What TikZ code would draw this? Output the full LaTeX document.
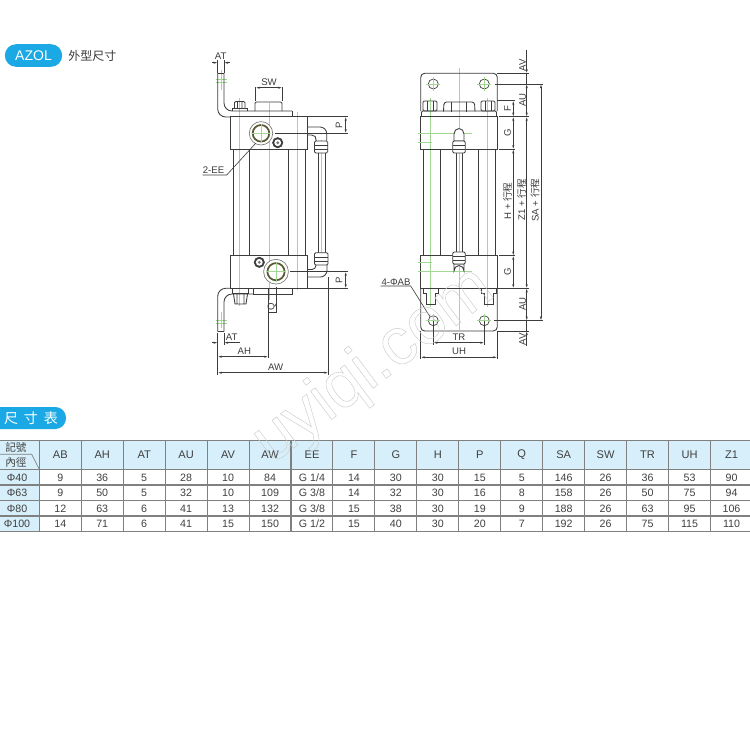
\documentclass[tikz,border=0pt]{standalone}
\usepackage{fontspec}
\setmainfont{Liberation Sans}
\newfontfamily\cjk{Noto Sans CJK TC}
\usetikzlibrary{arrows.meta}
\definecolor{ink}{HTML}{3C3C3C}
\definecolor{cl}{HTML}{A0D894}
\definecolor{pill}{HTML}{1BA9E6}
\definecolor{hdr}{HTML}{D6EFFA}
\definecolor{grid}{HTML}{808080}
\tikzset{
  x=0.75pt,y=-0.75pt,
  body/.style={draw=ink,line width=0.65pt},
  center line/.style={draw=cl,line width=0.6pt},
  dimline/.style={draw=ink,line width=0.45pt},
  dimarrow/.style={draw=ink,line width=0.45pt,{Latex[length=3pt,width=1.6pt]}-{Latex[length=3pt,width=1.6pt]}},
  lab/.style={font=\fontsize{7.2}{8}\selectfont,text=ink,inner sep=0pt},
  vlab/.style={lab,rotate=90},
  cell/.style={font=\fontsize{8}{9}\selectfont,text=black!75,inner sep=0pt},
  gridline/.style={draw=grid,line width=0.8pt},
}
\newcommand{\outlinetext}[1]{\special{pdf:literal 1 Tr 0.35 w}#1\special{pdf:literal 0 Tr}}
\begin{document}
\begin{tikzpicture}
\useasboundingbox (0,0) rectangle (750,750);
\fill[white] (0,0) rectangle (750,750);

% ---------- title pills
\node[fill=pill,rounded corners=8.5pt,minimum width=43pt,minimum height=17pt,inner sep=0pt,text=white,font=\fontsize{10.5}{12}\selectfont] (azol) at (33.5,55.5) {AZOL};
\node[font=\cjk\fontsize{9}{10}\selectfont,text=ink,inner sep=0pt,anchor=west] (wx) at (68,55.5) {外型尺寸};
\fill[pill,rounded corners=8pt] (-20,407) rectangle (66,429);
\node[font=\cjk\fontsize{10.5}{12}\selectfont,text=white,inner sep=0pt] (cc) at (31,418.5) {尺\hspace{4.5pt}寸\hspace{4.5pt}表};

% ---------- LEFT VIEW
% centre lines
\draw[center line] (239,98) -- (239,306);
\draw[center line] (269,103) -- (269,300);
\draw[center line] (297.5,112) -- (297.5,290);
\draw[center line] (321.7,140) -- (321.7,262);
\draw[center line] (221,70) -- (221,90) (215.5,79) -- (227,79) (215.5,82) -- (227,82);
\draw[center line] (221,312) -- (221,328) (215.5,320) -- (227,320) (215.5,323) -- (227,323);
% cylinder
\draw[body] (233,149) -- (233,255.7) (249,149) -- (249,255.7) (288,149) -- (288,255.7) (305,149) -- (305,255.7);
% top bracket
\draw[body,rounded corners=6pt] (217.7,73) -- (217.7,117) -- (231,117);
\draw[body,rounded corners=6pt] (224,73) -- (224,111) -- (292,111);
\draw[body] (217.7,73) -- (224,73) (292,111) -- (292,116.7);
% top bolt + plug
\draw[body] (232.3,111) -- (232.3,108.3) -- (247.3,108.3) -- (247.3,111);
\draw[body] (234.5,108.3) -- (234.5,102.5) -- (236,101.5) -- (243.5,101.5) -- (245,102.5) -- (245,108.3) (237.5,101.5) -- (237.5,108.3) (242,101.5) -- (242,108.3);
\draw[body,rounded corners=1pt] (255,111) -- (255,102) -- (282,102) -- (282,111);
% upper block
\draw[body,fill=white] (230.7,116.7) rectangle (307,149);
\draw[center line] (239,117) -- (239,149) (269,117) -- (269,149) (297.5,117) -- (297.5,149);
% upper port
\fill[white] (261,133.3) circle (11.7);
\draw[draw=ink!70,line width=0.5pt] (261,133.3) circle (11.7);
\draw[draw=ink!85!yellow,line width=1.3pt] (261,133.3) circle (8.3);
\draw[center line] (261,124) -- (261,142.5) (252,133.3) -- (270,133.3);
\draw[fill=ink,draw=ink] (277.7,142.7) circle (5.2);
\draw[fill=white,draw=none] (277.7,142.7) circle (3.4);
\draw[fill=ink!70,draw=none] (277.7,142.7) circle (1.6);
% upper elbow
\draw[body] (275,133.3) -- (345,133.3);
\draw[body,rounded corners=5pt] (307,127) -- (326.7,127) -- (326.7,141);
\draw[body,rounded corners=4pt] (307,135) -- (317,135) -- (316,141);
% upper nut
\draw[body,fill=white,rounded corners=1pt] (314.5,141) rectangle (327.7,153);
\draw[body] (314.5,145) -- (327.7,145) (314.5,149) -- (327.7,149);
% tube
\draw[body] (318,153) -- (318,252.7) (325.7,153) -- (325.7,252.7);
% lower nut
\draw[body,fill=white,rounded corners=1pt] (314.5,252.7) rectangle (328,265);
\draw[body] (314.5,257) -- (328,257) (314.5,261) -- (328,261);
% lower elbow
\draw[body,rounded corners=5pt] (327,265) -- (327,277) -- (307,277);
\draw[body,rounded corners=3pt] (316,265) -- (316,269.5) -- (307,269.5);
% lower block
\draw[body,fill=white] (230.7,255.7) rectangle (307,288.3);
\draw[center line] (239,256) -- (239,288) (269,256) -- (269,288) (297.5,256) -- (297.5,288);
\fill[white] (276,271.7) circle (12.4);
\draw[draw=ink!70,line width=0.5pt] (276,271.7) circle (12.4);
\draw[draw=ink!85!yellow,line width=1.3pt] (276,271.7) circle (8.6);
\draw[center line] (276,262) -- (276,281.5) (266,271.7) -- (286,271.7);
\draw[fill=ink,draw=ink] (259.3,262.3) circle (5.2);
\draw[fill=white,draw=none] (259.3,262.3) circle (3.4);
\draw[fill=ink!70,draw=none] (259.3,262.3) circle (1.6);
% lower bracket
\draw[body,rounded corners=6pt] (231,288.3) -- (217.7,288.3) -- (217.7,331.7);
\draw[body,rounded corners=6pt] (253,294) -- (224,294) -- (224,331.7);
\draw[body] (217.7,331.7) -- (224,331.7) (253,288.3) -- (253,294) -- (292.7,294) -- (292.7,288.3);
% lower bolt
\draw[body] (232.7,288.3) -- (232.7,293) -- (248,293) -- (248,288.3);
\draw[body] (233.5,294) -- (235,304) -- (246,304) -- (247.5,294) (237,294) -- (237,304) (244,294) -- (244,304);

% left dimensions
\draw[dimline] (217.7,60) -- (217.7,73) (224,60) -- (224,73);
\draw[dimline,-{Latex[length=3pt,width=1.6pt]}] (211.5,62.7) -- (217.7,62.7);
\draw[dimline,-{Latex[length=3pt,width=1.6pt]}] (230,62.7) -- (224,62.7);
\node[lab] (atT) at (220.7,56.5) {AT};
\draw[dimline] (255.7,87) -- (255.7,101) (282.3,87) -- (282.3,101);
\draw[dimarrow] (255.7,87.7) -- (282.3,87.7);
\node[lab] (sw) at (269,82.2) {SW};
\draw[dimline] (307,116.7) -- (347.5,116.7) (345,133.3) -- (347.5,133.3);
\draw[dimarrow] (345.7,116.7) -- (345.7,133.3);
\node[vlab] (p1) at (339,125) {P};
\coordinate (eeA) at (202.7,175); \coordinate (eeB) at (226.7,175); \coordinate (eeC) at (255.7,143.3);
\draw[dimline] (eeA) -- (eeB) -- (eeC);
\node[lab] (ee) at (213.5,170.5) {2-EE};
\draw[dimline] (290,271.7) -- (347.5,271.7) (307,288.3) -- (347.5,288.3);
\draw[dimarrow] (345.7,271.7) -- (345.7,288.3);
\node[vlab] (p2) at (339,280) {P};
\draw[dimline] (276,286.7) -- (276,312.7) -- (268.3,312.7);
\draw[dimline] (268.3,288) -- (268.3,358);
\node[vlab] (q) at (272,306.5) {Q};
\draw[dimline] (217.7,333) -- (217.7,375) (224,333) -- (224,345) (328.3,277) -- (328.3,375);
\draw[dimline,-{Latex[length=3pt,width=1.6pt]}] (211.7,342.7) -- (217.7,342.7);
\draw[dimline,-{Latex[length=3pt,width=1.6pt]}] (240,342.7) -- (224,342.7);
\node[lab] (atB) at (231.7,337) {AT};
\draw[dimarrow] (217.7,356.7) -- (268.3,356.7);
\node[lab] (ah) at (244.3,351.2) {AH};
\draw[dimarrow] (217.7,372.7) -- (328.3,372.7);
\node[lab] (aw) at (275.7,367.2) {AW};

% ---------- RIGHT VIEW
\draw[center line] (459,68) -- (459,120) (459,150) -- (459,330);
\draw[center line] (430,98) -- (430,307) (487.7,98) -- (487.7,307);
% plate
\draw[body,rounded corners=3pt] (420.7,111) -- (420.7,73.3) -- (497.3,73.3) -- (497.3,111);
\draw[body,rounded corners=3pt] (420.7,288.3) -- (420.7,331) -- (497.3,331) -- (497.3,288.3);
% holes
\foreach \n/\hx/\hy in {h1/433.3/84,h2/484.3/84,h3/433.3/320.7,h4/484.3/320.7}{
  \draw[draw=ink,line width=0.5pt] (\hx,\hy) circle (5);
  \draw[center line] (\hx-7,\hy) -- (\hx+7,\hy) (\hx,\hy-7) -- (\hx,\hy+7);
}
% cylinder
\draw[body] (423.3,149.3) -- (423.3,255.7) (440,149.3) -- (440,255.7) (478.3,149.3) -- (478.3,255.7) (495,149.3) -- (495,255.7);
\draw[center line] (430,150) -- (430,255) (487.7,150) -- (487.7,255);
\draw[body] (456,153) -- (456,252) (462,153) -- (462,252);
% top bolts + plug
\foreach \bx in {423,481}{
  \draw[body,fill=white,rounded corners=1pt] (\bx,111) -- (\bx,101) -- (\bx+14,101) -- (\bx+14,111) -- cycle;
  \draw[body] (\bx+4,101) -- (\bx+4,111) (\bx+10,101) -- (\bx+10,111);
}
\draw[center line] (430,101) -- (430,111) (487.7,101) -- (487.7,111);
\draw[body,rounded corners=2pt] (443.5,111.5) -- (444,102) -- (474.5,102) -- (475,111.5);
\draw[body] (451.5,102) -- (451.5,111.5) (466.5,102) -- (466.5,111.5);
\draw[body,rounded corners=1pt] (421.5,116.7) -- (421.5,111) -- (496.5,111) -- (496.5,116.7);
% upper block
\draw[body] (420.7,116.7) rectangle (497.3,149.3);
\draw[center line] (430,117) -- (430,149) (459,117) -- (459,128) (487.7,117) -- (487.7,149);
\draw[center line] (417.7,133.3) -- (471.7,133.3) (417.7,142) -- (432,142);
% upper fitting
\draw[body,fill=white] (454,141) -- (454,134) arc[start angle=180,end angle=0,x radius=5,y radius=-5.5] -- (464,141) -- cycle;
\draw[body,fill=white,rounded corners=1pt] (452.7,141) rectangle (465.3,153);
\draw[body] (452.7,145) -- (465.3,145) (452.7,149) -- (465.3,149);
% lower block
\draw[body] (420.7,255.7) rectangle (497.3,288.3);
\draw[center line] (430,256) -- (430,288) (459,277) -- (459,288) (487.7,256) -- (487.7,288);
\draw[center line] (417.7,271.7) -- (471.7,271.7) (417.7,262.3) -- (432,262.3);
\draw[body,fill=white] (454,264) -- (454,271) arc[start angle=180,end angle=360,x radius=5,y radius=5.5] -- (464,264) -- cycle;
\draw[body,fill=white,rounded corners=1pt] (452.7,252) rectangle (465.3,264);
\draw[body] (452.7,256) -- (465.3,256) (452.7,260) -- (465.3,260);
% lower bolts
\foreach \bx in {423,481}{
  \draw[body] (\bx,288.3) -- (\bx,293) -- (\bx+3,293) -- (\bx+3,304) -- (\bx+12,304) -- (\bx+12,293) -- (\bx+15,293) -- (\bx+15,288.3);
}
% right dimensions
\draw[dimline] (497.3,73.3) -- (528.7,73.3) (495,84) -- (543,84) (497.3,100.7) -- (515,100.7)
  (499,116.7) -- (529,116.7) (499,149.3) -- (515,149.3) (499,255.7) -- (515,255.7)
  (498,288.3) -- (529,288.3) (494,320.7) -- (543,320.7) (497.3,331) -- (529,331);
\draw[dimline,-{Latex[length=3pt,width=1.6pt]}] (526.7,50) -- (526.7,73.3);
\draw[dimline,-{Latex[length=3pt,width=1.6pt]}] (526.7,346) -- (526.7,331);
\draw[dimarrow] (526.7,84) -- (526.7,116.7);
\draw[dimarrow] (526.7,116.7) -- (526.7,288.3);
\draw[dimarrow] (526.7,288.3) -- (526.7,320.7);
\draw[dimline] (526.7,73.3) -- (526.7,84) (526.7,320.7) -- (526.7,331);
\draw[dimarrow] (541,84) -- (541,320.7);
\draw[dimarrow] (513.3,100.7) -- (513.3,116.7);
\draw[dimarrow] (513.3,116.7) -- (513.3,149.3);
\draw[dimarrow] (513.3,149.3) -- (513.3,255.7);
\draw[dimarrow] (513.3,255.7) -- (513.3,288.3);
\node[vlab] (avT) at (522.5,65) {AV};
\node[vlab] (auT) at (522.5,100) {AU};
\node[vlab] (f) at (507.5,109) {F};
\node[vlab] (gT) at (507.5,133) {G};
\node[vlab] (gB) at (507.5,272) {G};
\node[vlab] (auB) at (522.5,304) {AU};
\node[vlab] (avB) at (522.5,339) {AV};
\node[vlab] (hs) at (507.5,201) {H + {\cjk 行程}};
\node[vlab] (z1s) at (521.5,200) {Z1 + {\cjk 行程}};
\node[vlab] (sas) at (535,200) {SA + {\cjk 行程}};
\draw[dimline] (433.3,320.7) -- (433.3,344.5) (484.3,320.7) -- (484.3,344.5) (420.7,331) -- (420.7,359) (497.3,331) -- (497.3,359);
\draw[dimarrow] (433.3,342.7) -- (484.3,342.7);
\draw[dimarrow] (420.7,357.3) -- (497.3,357.3);
\node[lab] (tr) at (459,337) {TR};
\node[lab] (uh) at (459,351.5) {UH};
\coordinate (abA) at (380.7,286); \coordinate (abB) at (410.7,286); \coordinate (abC) at (430,316.7);
\draw[dimline] (abA) -- (abB) -- (abC);
\node[lab] (ab) at (396,282) {4-ΦAB};

% ---------- TABLE
\fill[hdr] (0,440.7) rectangle (750,469.3);
\fill[hdr] (0,469.3) rectangle (39.3,531.7);
\foreach \c [count=\i] in {AB,AH,AT,AU,AV,AW,EE,F,G,H,P,Q,SA,SW,TR,UH,Z1}{
  \node[cell,font=\fontsize{8.3}{9}\selectfont] (head\i) at ({60.3+41.95*(\i-1)},455) {\c};
}
\foreach \c [count=\i] in {9,36,5,28,10,84,G 1/4,14,30,30,15,5,146,26,36,53,90}{
  \node[cell] (ra\i) at ({60.3+41.95*(\i-1)},477.5) {\c};
}
\foreach \c [count=\i] in {9,50,5,32,10,109,G 3/8,14,32,30,16,8,158,26,50,75,94}{
  \node[cell] (rb\i) at ({60.3+41.95*(\i-1)},493) {\c};
}
\foreach \c [count=\i] in {12,63,6,41,13,132,G 3/8,15,38,30,19,9,188,26,63,95,106}{
  \node[cell] (rc\i) at ({60.3+41.95*(\i-1)},508.5) {\c};
}
\foreach \c [count=\i] in {14,71,6,41,15,150,G 1/2,15,40,30,20,7,192,26,75,115,110}{
  \node[cell] (rd\i) at ({60.3+41.95*(\i-1)},524) {\c};
}
\foreach \t/\y in {Φ40/477.5,Φ63/493,Φ80/508.5,Φ100/524}{
  \node[cell] at (17,\y) {\t};
}
\node[cell,font=\cjk\fontsize{8}{9}\selectfont] (bh1) at (16,447.7) {記號};
\node[cell,font=\cjk\fontsize{8}{9}\selectfont] (bh2) at (16,462) {內徑};
\draw[draw=grid,line width=0.5pt] (0,454.3) -- (31.7,454.3) -- (39.3,469.3);
\foreach \y in {440.7,469.3,485,500.7,516,531.7}{
  \draw[gridline] (0,\y) -- (750,\y);
}
\foreach \i in {0,...,16}{
  \draw[gridline] ({39.3+41.95*\i},440.7) -- ({39.3+41.95*\i},531.7);
}

% ---------- watermark
\node[rotate=37,font=\fontsize{50}{52}\selectfont,text=black!20,inner sep=0pt] (wm) at (374,366) {\outlinetext{uyiqi.com}};
\end{tikzpicture}
\end{document}
